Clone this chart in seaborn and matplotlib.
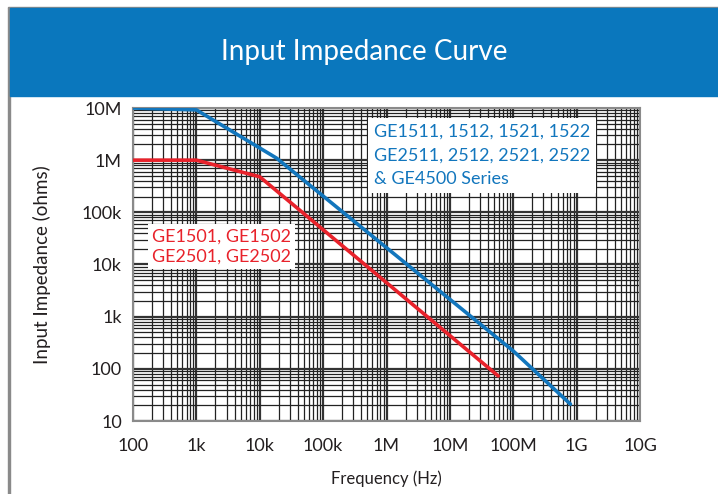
import matplotlib
matplotlib.use('Agg')
import matplotlib.pyplot as plt
import matplotlib.ticker as mticker
from matplotlib.patches import Rectangle
import seaborn as sns

# dados
freq_azul = [100, 1e3, 18.5e3, 100e6, 800e6]
imp_azul = [10e6, 9.2e6, 1.09e6, 220, 21]

freq_verm = [100, 1e3, 10e3, 58e6]
imp_verm = [1e6, 1e6, 480e3, 73]

x_ticks = [1e2, 1e3, 1e4, 1e5, 1e6, 1e7, 1e8, 1e9, 1e10]
x_labels = ['100', '1k', '10k', '100k', '1M', '10M', '100M', '1G', '10G']
y_ticks = [1e1, 1e2, 1e3, 1e4, 1e5, 1e6, 1e7]
y_labels = ['10', '100', '1k', '10k', '100k', '1M', '10M']

label_azul = 'GE1511, 1512, 1521, 1522\nGE2511, 2512, 2521, 2522\n& GE4500 Series'
label_verm = 'GE1501, GE1502\nGE2501, GE2502'

AZUL = '#1276bd'
VERM = '#e8222b'

sns.set_style('white')
plt.rcParams['font.family'] = ['Lato', 'DejaVu Sans']

fig = plt.figure(figsize=(7.18, 4.94), dpi=100)

# faixa do titulo
W, H = 718, 494
fig.patches.append(Rectangle((8 / W, 0), 1.5 / W, 1 - 8 / H, transform=fig.transFigure,
                             color='#8a8a8a', zorder=0))
fig.patches.append(Rectangle((8 / W, 1 - 8.5 / H), 1, 1.5 / H, transform=fig.transFigure,
                             color='#8a8a8a', zorder=0))
fig.patches.append(Rectangle((9.5 / W, 1 - 96.5 / H), 1, 88 / H, transform=fig.transFigure,
                             color='#0a77bd', zorder=1))
fig.text(0.508, 1 - 52 / H, 'Input Impedance Curve', color='white', fontsize=20,
         ha='center', va='center')

ax = fig.add_axes([133 / W, 1 - 421 / H, 507 / W, 313 / H])

sns.lineplot(x=freq_azul, y=imp_azul, ax=ax, color=AZUL, lw=2.6, zorder=5)
sns.lineplot(x=freq_verm, y=imp_verm, ax=ax, color=VERM, lw=2.6, zorder=5)

ax.set_xscale('log')
ax.set_yscale('log')
ax.set_xlim(1e2, 1e10)
ax.set_ylim(1e1, 1e7)

ax.xaxis.set_major_locator(mticker.FixedLocator(x_ticks))
ax.yaxis.set_major_locator(mticker.FixedLocator(y_ticks))
ax.xaxis.set_minor_locator(mticker.LogLocator(base=10, subs=range(2, 10), numticks=20))
ax.yaxis.set_minor_locator(mticker.LogLocator(base=10, subs=range(2, 10), numticks=20))
ax.xaxis.set_minor_formatter(mticker.NullFormatter())
ax.yaxis.set_minor_formatter(mticker.NullFormatter())
ax.set_xticklabels(x_labels)
ax.set_yticklabels(y_labels)

ax.grid(True, which='major', color='#333333', lw=1.6)
ax.grid(True, which='minor', color='#222222', lw=0.9)
ax.tick_params(which='both', length=0, labelsize=13, colors='#231f20')
ax.tick_params(axis='x', pad=12)
ax.tick_params(axis='y', pad=8)

for s in ax.spines.values():
    s.set_color('#8a8a8a')
    s.set_linewidth(1.5)

ax.set_xlabel('Frequency (Hz)', fontsize=12, color='#231f20', labelpad=12)
ax.set_ylabel('Input Impedance (ohms)', fontsize=13.5, color='#231f20', labelpad=22)

ax.text(0.475, 0.95, label_azul, transform=ax.transAxes, color=AZUL, fontsize=13,
        ha='left', va='top', linespacing=1.6, zorder=6,
        bbox=dict(facecolor='white', edgecolor='none', pad=4))
ax.text(0.038, 0.615, label_verm, transform=ax.transAxes, color=VERM, fontsize=13,
        ha='left', va='top', linespacing=1.35, zorder=6,
        bbox=dict(facecolor='white', edgecolor='none', pad=3))

fig.savefig('out.png', dpi=100)
